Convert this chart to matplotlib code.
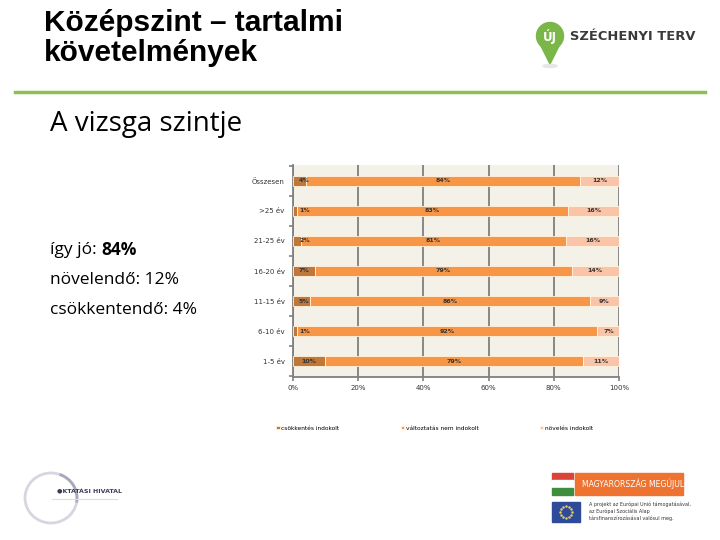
import matplotlib
matplotlib.use("Agg")
import matplotlib.pyplot as plt
from matplotlib.patches import Rectangle, Ellipse, Circle, Polygon, Arc
import numpy as np

# data (top to bottom)
categories = ["Összesen", ">25 év", "21-25 év", "16-20 év", "11-15 év", "6-10 év", "1-5 év"]
csokkentes = [4.1, 1.2, 2.4, 6.7, 5.2, 1.2, 9.8]
valtozatlan = [83.9, 83.2, 81.4, 78.8, 85.8, 92.1, 79.2]
noveles = [12.0, 15.6, 16.2, 14.5, 9.0, 6.7, 11.0]
series_names = ["csökkentés indokolt", "változtatás nem indokolt", "növelés indokolt"]
colors = ["#C0773A", "#F79646", "#F9C4A8"]
xticks = [0, 20, 40, 60, 80, 100]

W, H = 720, 540
fig = plt.figure(figsize=(7.2, 5.4), dpi=100)

def fx(px):
    return px / W

def fy(py):
    return 1 - py / H

# header
fig.text(fx(44), fy(23), "Középszint – tartalmi", fontsize=21.5, fontweight="bold",
         family="Liberation Sans", va="center", ha="left")
fig.text(fx(44), fy(53), "követelmények", fontsize=21.5, fontweight="bold",
         family="Liberation Sans", va="center", ha="left")
fig.add_artist(plt.Line2D([fx(15), fx(705)], [fy(92), fy(92)], color="#8CC152", lw=2.5))

# Új Széchenyi Terv logo
logo = fig.add_axes([0, 0, 1, 1], zorder=-1)
logo.set_xlim(0, W)
logo.set_ylim(H, 0)
logo.axis("off")
logo.add_patch(Polygon([[540, 44], [560, 44], [550, 64]], closed=True, color="#7AB648"))
logo.add_patch(Circle((550, 36), 13.5, color="#7AB648"))
logo.add_patch(Ellipse((550, 66), 14, 3, color="#E6E6E6"))
logo.text(550, 37, "ÚJ", color="white", fontsize=8.5, fontweight="bold", ha="center", va="center")
logo.text(570, 37, "SZÉCHENYI TERV", color="#3A3A3A", fontsize=9.4, fontweight="bold",
          ha="left", va="center")

# Oktatási Hivatal logo
logo.add_patch(Ellipse((51, 498), 52, 50, fill=False, ec="#D6D6E0", lw=2))
logo.add_patch(Arc((51, 498), 52, 50, theta1=-70, theta2=10, ec="#A8A8BC", lw=2))
logo.text(57, 491, "●KTATÁSI HIVATAL", fontsize=4.5, color="#3A3A5A", fontweight="bold",
          ha="left", va="center")
logo.plot([52, 117], [499, 499], color="#DDDDE6", lw=0.8)

# Magyarország megújul
logo.add_patch(Rectangle((552, 473), 21, 7.3, color="#D9433A"))
logo.add_patch(Rectangle((552, 480.3), 21, 7.3, color="white"))
logo.add_patch(Rectangle((552, 487.6), 21, 7.4, color="#3E8E3E"))
logo.add_patch(Rectangle((575, 473), 108, 22, color="#EE7330"))
logo.text(582, 484, "MAGYARORSZÁG MEGÚJUL", color="white", fontsize=5.6, ha="left", va="center")
logo.add_patch(Rectangle((552, 502), 28, 20, color="#2E4A9A"))
ang = np.linspace(0, 2 * np.pi, 12, endpoint=False)
logo.scatter(566 + 6 * np.cos(ang), 512 + 6 * np.sin(ang), s=0.6, color="#F2D23C", zorder=5)
eu_lines = ["A projekt az Európai Unió támogatásával,", "az Európai Szociális Alap",
            "társfinanszírozásával valósul meg."]
for i, line in enumerate(eu_lines):
    logo.text(589, 504 + i * 7, line, fontsize=3.5, color="#333333", ha="left", va="center")

# left texts
fig.text(fx(50), fy(124), "A vizsga szintje", fontsize=20, family="Open Sans", va="center", ha="left")
t1 = fig.text(fx(50), fy(250), "így jó: ", fontsize=12.5, family="Open Sans", va="center", ha="left")
fig.canvas.draw()
bb = t1.get_window_extent()
fig.text(bb.x1 / W, fy(250), "84%", fontsize=12.5, family="Open Sans", fontweight="bold",
         va="center", ha="left")
fig.text(fx(50), fy(280), "növelendő: 12%", fontsize=12.5, family="Open Sans", va="center", ha="left")
fig.text(fx(50), fy(310), "csökkentendő: 4%", fontsize=12.5, family="Open Sans", va="center", ha="left")

# chart
ax = fig.add_axes([fx(293), fy(377), fx(326), (377 - 165) / H])
ax.set_facecolor("#F3F1E8")
y = np.arange(len(categories))
left = np.zeros(len(categories))
for vals, col, name in zip([csokkentes, valtozatlan, noveles], colors, series_names):
    vals = np.array(vals)
    ax.barh(y, vals, left=left, height=0.36, color=col, edgecolor="#FFF4E0", lw=0.6,
            label=name, zorder=3)
    for yi, l, v in zip(y, left, vals):
        cx = max(l + v / 2, l + 3.5)
        ax.text(cx, yi, "%d%%" % round(v), fontsize=4.5, ha="center", va="center",
                color="#333333", fontweight="bold", zorder=4)
    left = left + vals

ax.set_xlim(0, 100)
ax.set_ylim(6.53, -0.53)
ax.set_xticks(xticks)
ax.set_xticklabels(["%d%%" % t for t in xticks], fontsize=5, color="#333333")
ax.set_yticks(y)
ax.set_yticklabels(categories, fontsize=5, color="#333333")
ax.set_yticks(np.arange(-0.5, 7, 1), minor=True)
ax.tick_params(axis="y", which="major", length=0, pad=6)
ax.tick_params(axis="y", which="minor", length=3, color="#808080", width=1.2)
ax.tick_params(axis="x", length=3, color="#808080", width=1.2, pad=3)
ax.grid(axis="x", color="#7F7F7F", lw=1.3, zorder=1)
for s in ["top", "right"]:
    ax.spines[s].set_visible(False)
for s in ["left", "bottom"]:
    ax.spines[s].set_color("#808080")
    ax.spines[s].set_linewidth(1.3)

leg = fig.legend(loc="center left", bbox_to_anchor=(fx(276), fy(428)), ncol=3, fontsize=4.2,
                 frameon=False, handlelength=0.6, handleheight=0.6, handletextpad=0.3,
                 columnspacing=10.5, borderaxespad=0, borderpad=0)

fig.savefig("out.png", dpi=100)
